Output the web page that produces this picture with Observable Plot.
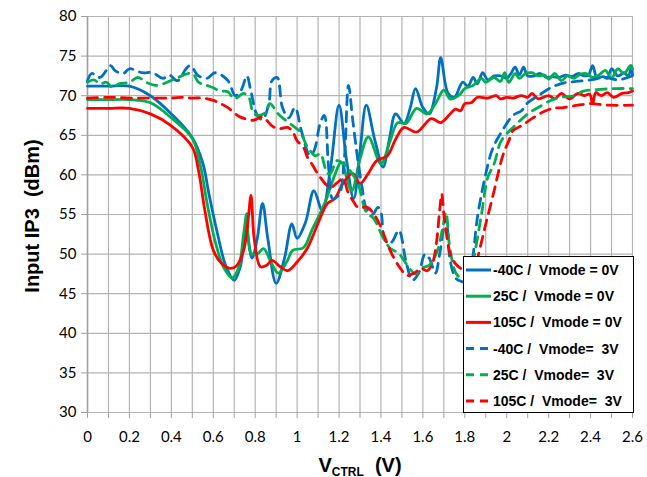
<!DOCTYPE html>
<html><head><meta charset="utf-8">
<script src="https://cdn.jsdelivr.net/npm/d3@7"></script>
<script src="https://cdn.jsdelivr.net/npm/@observablehq/plot@0.6"></script>
<style>
body{margin:0;background:#fff;}
#wrap{position:relative;width:647px;height:477px;background:#fff;overflow:hidden;}
#chart{position:absolute;left:0;top:0;}
#ytitle{position:absolute;left:32px;top:216px;transform:translate(-50%,-50%) rotate(-90deg);font:bold 20px "Liberation Sans",Arial,sans-serif;white-space:pre;color:#000;}
#xtitle{position:absolute;left:360px;top:466px;transform:translate(-50%,-50%);font:bold 20px "Liberation Sans",Arial,sans-serif;white-space:pre;color:#000;}
#xtitle sub{font-size:12px;vertical-align:-4px;}
#legend{position:absolute;left:463px;top:256px;}
</style></head>
<body><div id="wrap"><div id="chart"></div><div id="ytitle">Input IP3  (dBm)</div><div id="xtitle">V<sub>CTRL</sub>  (V)</div><div id="legend"></div></div>
<script>
const xTicks = [0,0.2,0.4,0.6,0.8,1,1.2,1.4,1.6,1.8,2,2.2,2.4,2.6];
const xGrid = [0,0.1,0.2,0.3,0.4,0.5,0.6,0.7,0.8,0.9,1,1.1,1.2,1.3,1.4,1.5,1.6,1.7,1.8,1.9,2,2.1,2.2,2.3,2.4,2.5,2.6];
const yTicks = [30,35,40,45,50,55,60,65,70,75,80];
const seriesNames = ["-40C /  Vmode = 0V","25C /  Vmode = 0V","105C /  Vmode = 0V","-40C /  Vmode=  3V","25C /  Vmode=  3V","105C /  Vmode=  3V"];

const m40_0V = [[0,71.2],[0.1,71.2],[0.2,71.2],[0.3,70.0],[0.4,67.7],[0.5,64.7],[0.55,61.5],[0.58,57.5],[0.62,52.6],[0.66,48.5],[0.70,46.7],[0.73,48.5],[0.755,53.5],[0.785,49.5],[0.81,52],[0.835,56.4],[0.86,52],[0.90,46.3],[0.94,49.5],[0.975,53.8],[1.0,52],[1.04,54],[1.08,58],[1.12,55.5],[1.16,61],[1.20,68.8],[1.235,62],[1.27,57],[1.30,63],[1.33,68.8],[1.37,64.5],[1.41,61],[1.44,64.5],[1.47,67.7],[1.51,66.5],[1.54,68.5],[1.565,70.9],[1.60,68.5],[1.63,67.7],[1.665,71],[1.685,74.8],[1.72,70.3],[1.75,69.8],[1.79,71.7],[1.815,71.2],[1.84,72.3],[1.86,71.5],[1.885,72.9],[1.91,72],[1.94,72.5],[1.97,72.5],[2.0,72.2],[2.02,72.8],[2.04,73.6],[2.06,72.6],[2.08,73.6],[2.10,72.5],[2.13,72.5],[2.16,72.8],[2.19,72.3],[2.22,72.4],[2.25,72.3],[2.28,72.6],[2.31,72.4],[2.34,72.8],[2.37,72.5],[2.39,72.6],[2.41,73.8],[2.43,72.3],[2.46,72.4],[2.48,72.2],[2.50,73.4],[2.53,72.5],[2.56,72.9],[2.58,72.5],[2.595,73.8],[2.6,72.6]];

const p25_0V = [[0,69.5],[0.1,69.5],[0.2,69.5],[0.3,69.1],[0.4,67.2],[0.5,64.6],[0.54,61],[0.57,56.5],[0.61,51.5],[0.65,48.3],[0.69,47.0],[0.72,48.2],[0.745,52.5],[0.76,55.1],[0.78,50.1],[0.81,50],[0.84,50.7],[0.875,49],[0.91,47.6],[0.95,49],[0.98,50.5],[1.03,50.8],[1.07,53],[1.10,54.6],[1.14,57],[1.18,60],[1.21,61.6],[1.26,58],[1.30,62],[1.34,64.8],[1.40,61.4],[1.44,64],[1.48,66.6],[1.52,66.5],[1.57,68.4],[1.62,67.7],[1.66,69],[1.70,70.7],[1.73,69.6],[1.77,70],[1.80,70.9],[1.84,71.3],[1.88,72.2],[1.90,71.7],[1.94,72.3],[1.97,71.8],[1.99,72.9],[2.01,71.7],[2.04,72.8],[2.06,72.2],[2.09,72.8],[2.12,72.9],[2.15,72.5],[2.18,72.6],[2.20,72.1],[2.23,72.8],[2.26,71.9],[2.29,72.5],[2.32,72.2],[2.35,72.7],[2.38,72.8],[2.41,72.3],[2.44,72.6],[2.47,73.2],[2.50,72.2],[2.53,73.4],[2.56,72.8],[2.59,73.8],[2.6,73.4]];

const p105_0V = [[0,68.4],[0.1,68.4],[0.2,68.4],[0.3,67.7],[0.4,66.2],[0.5,63.5],[0.53,60.5],[0.56,55.5],[0.60,50.5],[0.64,48.8],[0.68,48.2],[0.71,48.5],[0.745,50.5],[0.765,54],[0.78,57.4],[0.795,52],[0.825,48.4],[0.855,48.6],[0.88,49.2],[0.92,48.4],[0.955,47.9],[1.0,49],[1.05,50.8],[1.10,53.9],[1.145,56.4],[1.18,57],[1.22,59],[1.265,60.2],[1.30,58.9],[1.34,60.2],[1.38,61.8],[1.43,62.4],[1.47,64.5],[1.51,66.0],[1.57,65.4],[1.64,67.1],[1.685,66.6],[1.73,67.7],[1.755,68.3],[1.78,68.1],[1.80,69],[1.83,69.1],[1.86,69.8],[1.91,69.7],[1.95,70.0],[1.97,69.6],[2.0,69.8],[2.03,69.7],[2.07,70],[2.10,69.8],[2.12,70.3],[2.15,69.6],[2.20,70],[2.23,69.6],[2.26,70.3],[2.30,69.6],[2.34,70.3],[2.37,70],[2.395,70.2],[2.41,69],[2.425,70.4],[2.45,70],[2.48,70.4],[2.51,69.8],[2.55,70.3],[2.58,70.4],[2.6,70.6]];

const m40_3V = [[0,71.9],[0.02,72.8],[0.06,72.3],[0.11,73.8],[0.13,73.2],[0.17,72.8],[0.2,73.4],[0.26,72.9],[0.31,72.9],[0.36,72.2],[0.39,72.6],[0.43,71.9],[0.47,73.4],[0.49,73.8],[0.53,72.5],[0.57,72.2],[0.61,72.9],[0.67,71.9],[0.705,70.0],[0.735,70.8],[0.76,72.5],[0.78,70.5],[0.81,67.5],[0.835,67.0],[0.865,69],[0.88,71.9],[0.905,72.3],[0.93,68.5],[0.96,67.2],[0.99,68.5],[1.02,65.6],[1.06,62.5],[1.08,63],[1.11,66.5],[1.13,67.5],[1.15,61],[1.17,57],[1.20,57.5],[1.225,62],[1.245,71.3],[1.265,67],[1.29,61.8],[1.31,58.4],[1.33,55.8],[1.36,55],[1.385,55.9],[1.40,55.3],[1.42,51.7],[1.45,51.5],[1.485,53],[1.52,49],[1.55,46.7],[1.58,47.6],[1.61,50],[1.63,49.5],[1.66,47.6],[1.68,50],[1.71,54.6],[1.73,49.2],[1.755,47],[1.77,46.7],[1.80,46.5],[1.83,48.5],[1.86,54.6],[1.89,58.9],[1.93,63.1],[1.97,65.2],[2.03,67.5],[2.07,68.1],[2.10,69.1],[2.15,70],[2.21,71],[2.27,71.6],[2.33,71.8],[2.40,72.0],[2.47,72.3],[2.53,72.0],[2.6,72.5]];

const p25_3V = [[0,71.7],[0.03,72],[0.06,71.5],[0.09,71.7],[0.12,71],[0.15,71.5],[0.2,71.7],[0.24,72.3],[0.28,71.7],[0.33,71.3],[0.38,71.7],[0.43,72.3],[0.5,72.8],[0.53,71.7],[0.57,71.3],[0.6,71],[0.63,70.6],[0.67,70.5],[0.70,69.6],[0.745,70.3],[0.77,69.8],[0.79,67.9],[0.815,67.5],[0.85,67.9],[0.87,69],[0.91,67.7],[0.945,66.9],[0.98,66.2],[1.015,65.4],[1.05,63.5],[1.09,62.4],[1.11,62.7],[1.145,60.2],[1.16,60.2],[1.19,61.8],[1.24,60.9],[1.29,58.9],[1.32,55.9],[1.335,55.1],[1.365,54.5],[1.41,52.1],[1.445,50.7],[1.485,50.1],[1.52,48.8],[1.565,47.5],[1.59,48.2],[1.63,48.6],[1.67,50.5],[1.695,53.4],[1.71,55.3],[1.73,50.5],[1.765,47.3],[1.80,47.0],[1.83,48],[1.85,50.5],[1.88,55.1],[1.91,59.7],[1.94,61.4],[1.97,64.1],[2.0,65.2],[2.05,66.5],[2.1,67.7],[2.15,68.5],[2.21,69.4],[2.26,69.8],[2.32,70],[2.37,70.6],[2.45,70.8],[2.52,70.9],[2.6,70.9]];

const p105_3V = [[0,69.7],[0.1,69.8],[0.2,69.7],[0.3,69.7],[0.4,69.7],[0.45,69.8],[0.5,69.7],[0.55,69.7],[0.6,69.4],[0.635,69],[0.67,68.5],[0.705,67.7],[0.73,67.3],[0.79,66.9],[0.835,67.3],[0.88,66.2],[0.91,65.8],[0.955,66.0],[0.98,65.4],[1.0,64.3],[1.03,63.5],[1.05,62.2],[1.07,61.4],[1.11,59.7],[1.16,58.4],[1.19,59.0],[1.22,59.5],[1.24,58],[1.265,56.8],[1.29,55.9],[1.335,55.9],[1.365,55.1],[1.40,53.4],[1.43,51.3],[1.46,49.6],[1.49,48.3],[1.525,47.3],[1.56,47.6],[1.59,48.2],[1.62,47.9],[1.645,48.8],[1.665,51.5],[1.68,55.5],[1.69,57.6],[1.70,55],[1.715,52.1],[1.73,50],[1.755,48.8],[1.78,48.2],[1.82,47.5],[1.85,48.5],[1.87,50.5],[1.90,53.8],[1.94,58],[1.97,61.4],[1.99,63.1],[2.01,64.3],[2.03,65.6],[2.07,66.2],[2.12,67.1],[2.17,67.9],[2.22,68.4],[2.27,68.5],[2.34,68.8],[2.4,69],[2.48,68.8],[2.6,68.8]];

const seriesData = [m40_0V, p25_0V, p105_0V, m40_3V, p25_3V, p105_3V];
const colors = ["#0070c0","#00b050","#ff0000","#0070c0","#00b050","#ff0000"];
const dashes = [null,null,null,"10,7","10,7","10,7"];

const lineMarks = seriesData.map((d,i)=>Plot.line(d,{x:p=>p[0],y:p=>p[1],stroke:colors[i],strokeWidth:2.8,curve:"catmull-rom",strokeDasharray:dashes[i]||undefined}));

const chart = Plot.plot({
  width:647, height:447,
  marginLeft:87, marginRight:15, marginTop:16, marginBottom:35,
  style:{fontFamily:"Lato, 'Open Sans', sans-serif", fontSize:"15px", color:"#000", background:"#fff"},
  x:{domain:[0,2.6]},
  y:{domain:[30,80]},
  marks:[
    Plot.ruleX(xGrid,{stroke:"#b4b4b4",strokeWidth:1.2}),
    Plot.ruleY(yTicks,{stroke:"#b4b4b4",strokeWidth:1.2}),
    Plot.ruleX([0],{stroke:"#a0a0a0",strokeWidth:1.5}),
    Plot.axisX({ticks:xGrid,tickSize:6,tickFormat:()=>"",stroke:"#a0a0a0",label:null}),
    Plot.axisX({ticks:xTicks,tickSize:0,tickPadding:19,tickFormat:d=>String(+d.toFixed(1)),label:null,fontSize:15}),
    Plot.axisY({ticks:yTicks,tickSize:6,tickPadding:5,stroke:"#a0a0a0",label:null,fontSize:15}),
    ...lineMarks
  ]
});
document.getElementById("chart").appendChild(chart);

// legend
const lg = d3.select("#legend").append("svg").attr("width",171).attr("height",157);
lg.append("rect").attr("x",0.5).attr("y",0.5).attr("width",170).attr("height",156).attr("fill","#fff").attr("stroke","#000").attr("stroke-width",1);
seriesNames.forEach((n,i)=>{
  const cy = 14 + i*26.2;
  lg.append("line").attr("x1",3).attr("x2",28).attr("y1",cy).attr("y2",cy)
    .attr("stroke",colors[i]).attr("stroke-width",3).attr("stroke-dasharray",dashes[i]?"8,6":null);
  lg.append("text").attr("x",30).attr("y",cy).attr("dy","0.36em")
    .style("font","bold 14px 'Liberation Sans', Arial, sans-serif").style("white-space","pre").attr("fill","#000").text(n);
});
</script></body></html>
